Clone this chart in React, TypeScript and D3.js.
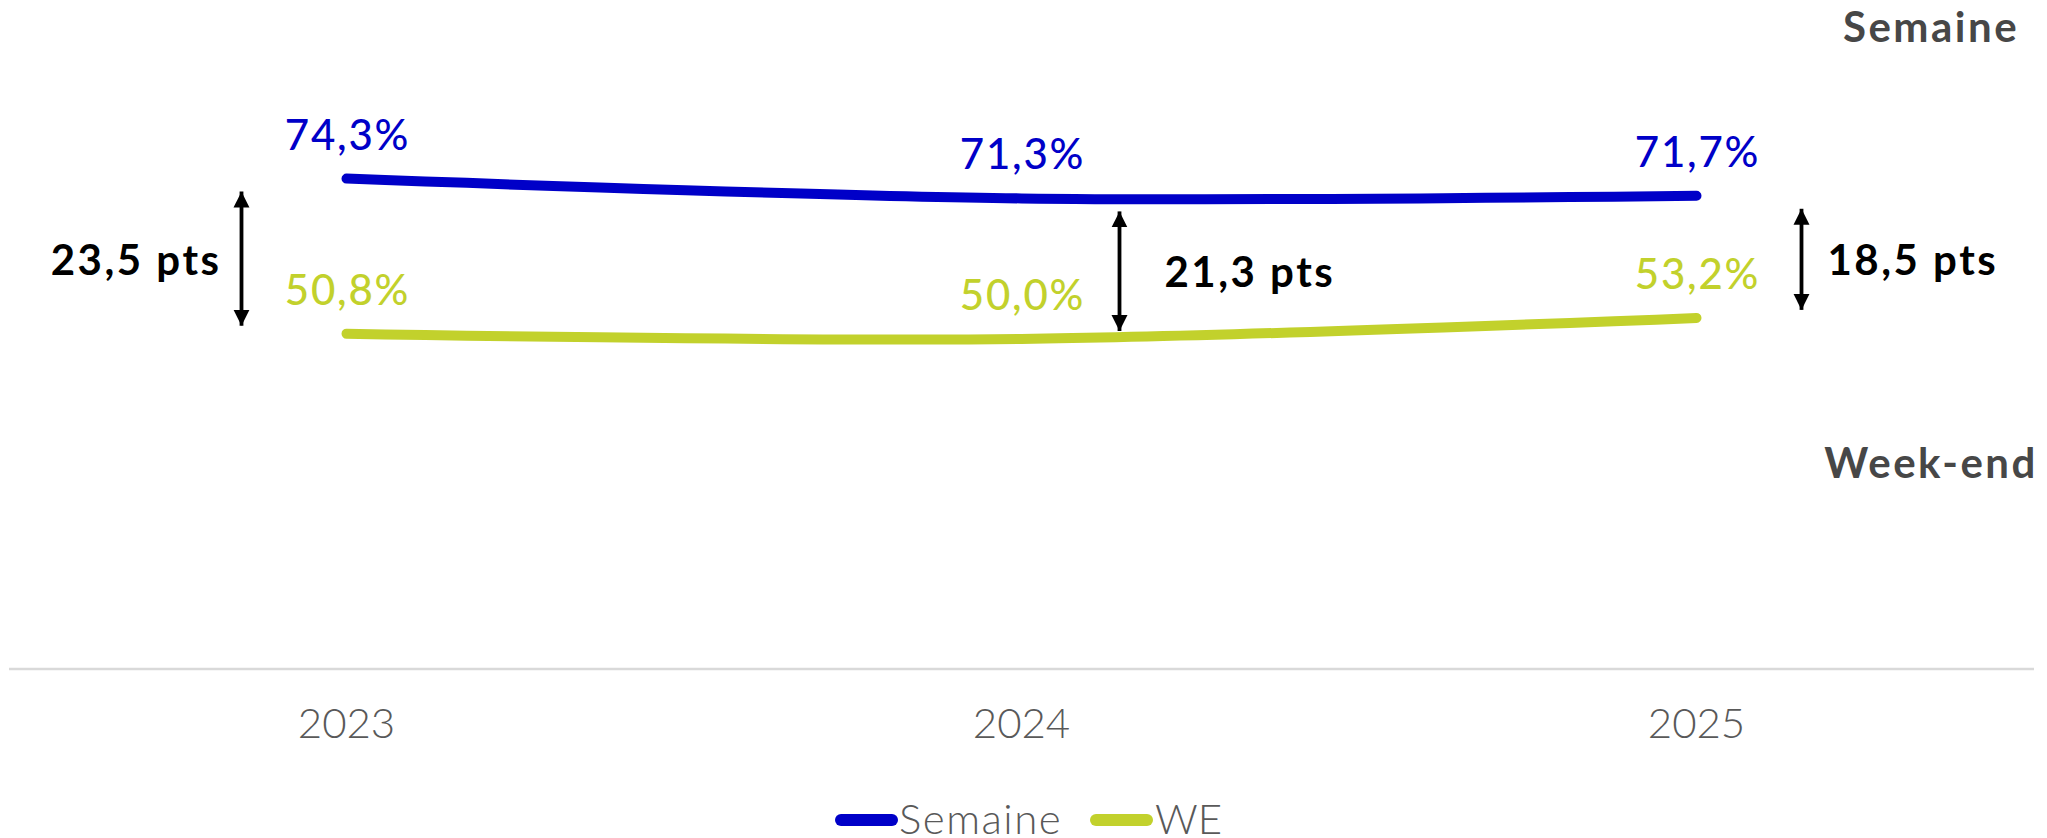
import React from "react";
import * as d3 from "d3";

const years = ["2023", "2024", "2025"];
const semaine = [74.3, 71.3, 71.7];
const weekend = [50.8, 50.0, 53.2];
const gapLabels = ["23,5 pts", "21,3 pts", "18,5 pts"];
const seriesNames = ["Semaine", "WE"];

const W = 2047;
const H = 838;
const BLUE = "#0000C8";
const GREEN = "#C2D12C";
const FONT = "Lato, 'Noto Sans', sans-serif";

const fmt = (v: number) => v.toFixed(1).replace(".", ",") + "%";

export default function App() {
  const x = d3.scaleBand<string>().domain(years).range([9, 2034]);
  const cx = (y: string) => (x(y) as number) + x.bandwidth() / 2;
  const y = d3.scaleLinear().domain([0, 100]).range([669, 9]);

  const line = d3
    .line<number>()
    .x((_, i) => cx(years[i]))
    .y((d) => y(d))
    .curve(d3.curveCatmullRom.alpha(0.5));

  // annotation placement: arrow offset from category centre and label side
  const arrowDx = [-105, 98, 105];
  const labelSide = [-1, 1, 1];
  const labelGap = [20, 45, 26];

  return (
    <svg width={W} height={H} style={{ position: "absolute", left: 0, top: 0 }}>
      <defs>
        <marker id="ah" viewBox="0 0 10 10" refX="10" refY="5" markerWidth="4.2" markerHeight="4.4" orient="auto-start-reverse" markerUnits="strokeWidth">
          <path d="M0,0 L10,5 L0,10 z" fill="#000" />
        </marker>
      </defs>
      <rect width={W} height={H} fill="#fff" />
      {/* axis line */}
      <line x1={9} x2={2034} y1={y(0)} y2={y(0)} stroke="#D9D9D9" strokeWidth={2.5} />
      {/* x tick labels */}
      {years.map((yr) => (
        <text key={yr} x={cx(yr)} y={738} textAnchor="middle" fontFamily={FONT} fontWeight={300} fontSize={42} fill="#595959">
          {yr}
        </text>
      ))}
      {/* lines */}
      <path d={line(semaine) || ""} fill="none" stroke={BLUE} strokeWidth={10} strokeLinecap="round" />
      <path d={line(weekend) || ""} fill="none" stroke={GREEN} strokeWidth={10} strokeLinecap="round" />
      {/* value labels */}
      {years.map((yr, i) => (
        <g key={"v" + yr}>
          <text x={cx(yr) + 1} y={y(semaine[i]) - 29} textAnchor="middle" fontFamily={FONT} fontWeight={500} fontSize={42} letterSpacing={1.8} fill={BLUE}>
            {fmt(semaine[i])}
          </text>
          <text x={cx(yr) + 1} y={y(weekend[i]) - 29} textAnchor="middle" fontFamily={FONT} fontWeight={500} fontSize={42} letterSpacing={1.8} fill={GREEN}>
            {fmt(weekend[i])}
          </text>
        </g>
      ))}
      {/* gap arrows */}
      {years.map((yr, i) => {
        const ax = cx(yr) + arrowDx[i];
        const y1 = y(semaine[i]) + 13;
        const y2 = y(weekend[i]) - 8;
        const mid = (y1 + y2) / 2;
        const lx = ax + labelSide[i] * labelGap[i];
        return (
          <g key={"a" + yr}>
            <line x1={ax} x2={ax} y1={y1} y2={y2} stroke="#000" strokeWidth={3.8} markerStart="url(#ah)" markerEnd="url(#ah)" />
            <text x={lx} y={mid + 16} textAnchor={labelSide[i] < 0 ? "end" : "start"} fontFamily={FONT} fontWeight={700} fontSize={42} letterSpacing={2.5} fill="#000">
              {gapLabels[i]}
            </text>
          </g>
        );
      })}
      {/* right side labels */}
      <text x={1931} y={42} textAnchor="middle" fontFamily={FONT} fontWeight={700} fontSize={42} letterSpacing={2.5} fill="#474747">
        Semaine
      </text>
      <text x={1931} y={478} textAnchor="middle" fontFamily={FONT} fontWeight={700} fontSize={42} letterSpacing={2.5} fill="#474747">
        Week-end
      </text>
      {/* legend */}
      <line x1={841} x2={892} y1={820} y2={820} stroke={BLUE} strokeWidth={12} strokeLinecap="round" />
      <text x={899} y={834} fontFamily={FONT} fontWeight={300} fontSize={42} letterSpacing={1.5} fill="#595959">
        {seriesNames[0]}
      </text>
      <line x1={1096} x2={1147} y1={820} y2={820} stroke={GREEN} strokeWidth={12} strokeLinecap="round" />
      <text x={1155} y={834} fontFamily={FONT} fontWeight={300} fontSize={42} fill="#595959">
        {seriesNames[1]}
      </text>
    </svg>
  );
}
